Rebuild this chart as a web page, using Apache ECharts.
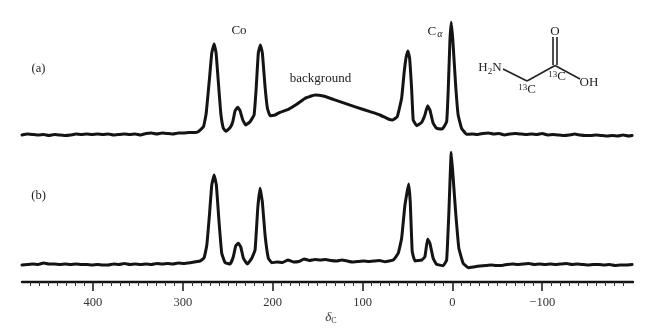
<!DOCTYPE html>
<html><head><meta charset="utf-8">
<style>html,body{margin:0;padding:0;background:#fff}#c{width:646px;height:335px}</style>
<script src="https://cdn.jsdelivr.net/npm/echarts@6/dist/echarts.min.js"></script>
</head><body><div id="c"></div>
<script>
const deltaA = [479,473,467,461,455,449,443,437,431,425,419,413,407,401,395,389,383,377,371,365,359,353,347,341,335,329,323,317,311,305,299,293,287,283,
277,274,270.5,267.8,265.2,263,260.4,257.8,254.9,251.9,247.4,244.4,241.9,238.9,236.3,233.3,230,225.2,220.7,218.5,216,213.7,211.5,208.5,205.9,202.9,197.4,191.8,182.6,173.2,164,152.9,143.7,132.6,119.5,106.5,91.7,80.6,71.4,66.5,61.4,56.5,53.6,51.4,49.5,47.6,45.4,43.6,39.8,34.2,30.6,27.6,25,21.4,17.6,11.3,6.4,4.7,2.8,1.3,-0.6,-3.6,-6.4,-10.2,-15.8,
-22,-28,-34,-40,-46,-52,-58,-64,-70,-76,-82,-88,-94,-100,-106,-112,-118,-124,-130,-136,-142,-148,-154,-160,-166,-172,-178,-184,-190,-196,-200];
const intensityA = [0,1,0.5,0,0.5,-0.5,0.5,0,-0.5,0,1,0.5,1,0.5,1,0.5,1,0,0.5,1,0.5,1,0,1.5,2,1,2,1.5,1,2,2,2.5,2.5,3.3,
8.3,21.7,55,82,91,82,52,22,6.7,3.7,7.3,13.3,24,27.7,24.3,15,10,13.3,20,45,82,90,82,48.3,26.7,19.3,20,22.7,25.7,30.7,36.7,40,39,35.7,31.7,27.7,23.3,20,16,15,18.3,36.7,63.3,78.3,84,76.7,46.7,15,9.3,12.7,20,29.3,25,11.7,6.7,6,13.3,43.3,93.3,112.7,93.3,50,20,6.7,0.7,
1,0.5,1.5,2,1,1.5,0,1,1.5,1,0.5,1,0.5,1.5,0,0.5,0,-0.5,0,1,0,-0.5,-0.5,0,-0.5,-1,-0.5,-1,0,-1,-0.5];
const deltaB = [479,473,467,461,455,449,443,437,431,425,419,413,407,401,395,389,383,377,371,365,359,353,347,341,335,329,323,317,311,305,299,
291.9,280.8,276.3,273.3,270.4,267.8,265.2,262.7,259.7,256.7,253,247.4,243.8,241.1,238.2,235.5,232.6,228.2,223.3,219.6,216.6,214,211.5,208.5,204.8,201,
195,189,183,177,171,165,159,153,147,141,135,129,123,117,111,105,99,93,87,81,
75,65.8,60.3,56.5,52.8,48.7,46.9,44.7,41.7,34.2,30.6,27.6,25,21.4,17.6,10.2,6.4,3.9,1.3,-0.9,-3.6,-7.2,-12,-17.6,-25,
-31,-37,-43,-49,-55,-61,-67,-73,-79,-85,-91,-97,-103,-109,-115,-121,-127,-133,-139,-145,-151,-157,-163,-169,-175,-181,-187,-193,-200];
const intensityB = [0,0.5,1,0.5,2,1,1,0.5,1,0.5,1,0.5,0.5,0,0.5,0,0,1,0.5,1.5,0.5,1,0.5,1,0.5,1.5,1,1.5,1,2,1.5,
2.3,4,7.3,20,50,80,90,80,43,11.7,2.3,1,8.3,19.3,21.7,18,6.7,1,6.7,15,57,76.7,63,30,6.7,2.3,
3,2.5,5,3,3.5,6,4.5,5.5,5,5.5,4.5,4,5,4,3,3.5,4,3.5,4,4.5,
3.3,5,11.7,26.7,60,81,63,13.3,4,5,8.3,26,21.7,6.7,0.7,-0.7,5,53,112.7,86.7,53,16.7,1.7,-2.7,-1.7,
-1,-0.5,0,-0.5,-0.5,0.5,1,0.5,1,1.5,0.5,1,0.5,1,0.5,1,1.5,0.5,1,0.5,0,0.5,0.5,0,0.5,-0.5,0,0,0.5];
const majorTicks = [400,300,200,100,0,-100];
const minorTicks = [470,460,450,440,430,420,410,390,380,370,360,350,340,330,320,310,290,280,270,260,250,240,230,220,210,190,180,170,160,150,140,130,120,110,90,80,70,60,50,40,30,20,10,-10,-20,-30,-40,-50,-60,-70,-80,-90,-110,-120,-130,-140,-150,-160,-170,-180,-190];
const xMin = -201, xMax = 479;
const serif = '"Liberation Serif","Times New Roman",serif';
const ink = '#141414';
const pair = (xs, ys) => xs.map((x, i) => [x, ys[i]]);
const txt = (x, y, parts, size, align) => ({type:'text', x, y, silent:true, style:{
  text:parts, x:0, y:0, fontFamily:serif, fontSize:size||13, fill:'#222', align:align||'center', verticalAlign:'middle',
  rich:{ i:{fontStyle:'italic', fontFamily:serif, fontSize:size||13, fill:'#222'},
         sub:{fontFamily:serif, fontSize:9, fill:'#222', verticalAlign:'bottom', padding:[7,0,0,0]},
         sup:{fontFamily:serif, fontSize:9, fill:'#222', padding:[0,0,5,0]},
         n:{fontFamily:serif, fontSize:size||13, fill:'#222'},
         a:{fontStyle:'italic', fontFamily:serif, fontSize:10, fill:'#222', padding:[5,0,0,1]} }
}});
const bond = (x1,y1,x2,y2) => ({type:'line', silent:true, shape:{x1,y1,x2,y2}, style:{stroke:'#222', lineWidth:1.6}});
const chart = echarts.init(document.getElementById('c'), null, {renderer:'canvas'});
const seriesBase = {type:'line', showSymbol:false, symbol:'none', smooth:0.1, animation:false, lineStyle:{color:ink, width:3, join:'round', cap:'round'}};
chart.setOption({
  animation:false, backgroundColor:'#fff',
  grid:[{left:22,right:13,top:5,height:150},{left:22,right:13,top:145,height:137}],
  xAxis:[
   {gridIndex:0,type:'value',inverse:true,min:xMin,max:xMax,show:false},
   {gridIndex:1,type:'value',inverse:true,min:xMin,max:xMax,position:'bottom',
    axisLine:{show:true,onZero:false,lineStyle:{color:ink,width:2.4}},
    axisTick:{show:true,customValues:majorTicks,length:9,lineStyle:{color:'#222',width:1.6}},
    axisLabel:{show:true,customValues:majorTicks,margin:14,fontFamily:serif,fontSize:12.5,color:'#333',
      formatter:v=>v<0?'\u2212'+Math.abs(v):String(v)},
    splitLine:{show:false},
    name:'{i|\u03B4}{s|C}',nameLocation:'middle',nameGap:29,
    nameTextStyle:{padding:[0,0,0,7],rich:{i:{fontFamily:serif,fontStyle:'italic',fontSize:13,color:'#333'},s:{fontFamily:serif,fontSize:8,color:'#333',padding:[6,0,0,0]}}}},
   {gridIndex:1,type:'value',inverse:true,min:xMin,max:xMax,position:'bottom',
    axisLine:{show:false,onZero:false},
    axisTick:{show:true,customValues:minorTicks,length:4,lineStyle:{color:'#333',width:1}},
    axisLabel:{show:false},splitLine:{show:false}}
  ],
  yAxis:[
   {gridIndex:0,type:'value',min:-20,max:130,show:false},
   {gridIndex:1,type:'value',min:-17,max:120,show:false}
  ],
  series:[
   Object.assign({},seriesBase,{name:'(a)',xAxisIndex:0,yAxisIndex:0,data:pair(deltaA,intensityA)}),
   Object.assign({},seriesBase,{name:'(b)',xAxisIndex:1,yAxisIndex:1,data:pair(deltaB,intensityB)})
  ],
  graphic:[
   txt(38.5,69,'(a)',12.5), txt(38.5,196,'(b)',12.5),
   txt(239,31,'Co',13), txt(435,32,'{n|C}{a|\u03B1}',13),
   txt(320.5,79,'background',13),
   txt(490,68,'{n|H}{sub|2}{n|N}',13),
   txt(555,32,'O',13), txt(589,83,'OH',13),
   txt(527,90,'{sup|13}{n|C}',13), txt(557,77,'{sup|13}{n|C}',13),
   bond(503,69,527,81), bond(527,81,555,65.5), bond(555,65.5,580,79),
   bond(553,37,553,65), bond(557,37,557,65)
  ]
});
</script></body></html>
